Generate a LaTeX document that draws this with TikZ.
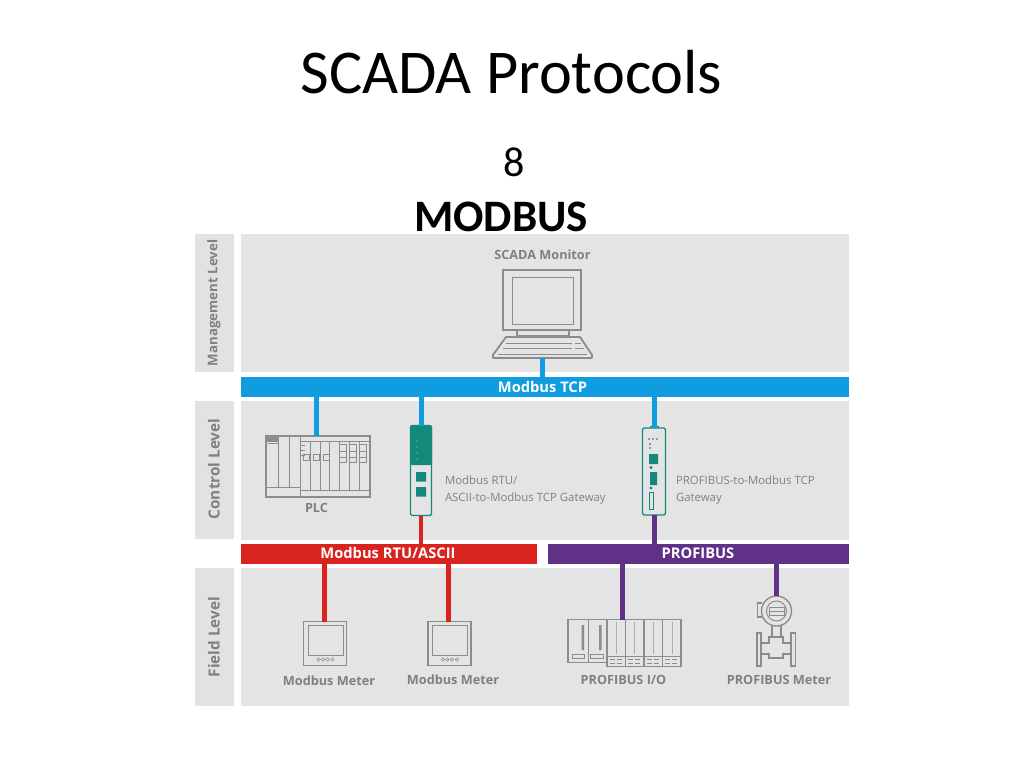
\documentclass[tikz,border=0pt]{standalone}
\usepackage{fontspec}
\setmainfont{Carlito}
\newfontfamily\diag{Open Sans}
\definecolor{panelc}{HTML}{E4E4E4}
\definecolor{sidec}{HTML}{E2E2E2}
\definecolor{busblue}{HTML}{0F9DE0}
\definecolor{busred}{HTML}{D8231F}
\definecolor{buspurple}{HTML}{5F3187}
\definecolor{tealc}{HTML}{12897A}
\definecolor{txtc}{HTML}{808080}
\definecolor{iconc}{HTML}{8C8C8C}
\tikzset{
  every node/.style={inner sep=0pt,outer sep=0pt},
  rectbox/.style n args={3}{rectangle,anchor=north west,fill=#3,minimum width=#1 pt,minimum height=#2 pt},
  sidetxt/.style={rotate=90,text=txtc,font=\diag\bfseries\fontsize{13.3}{16}\selectfont},
  sidebig/.style={rotate=90,text=txtc,font=\diag\bfseries\fontsize{15.3}{18}\selectfont},
  bustxt/.style={text=white,font=\diag\bfseries\fontsize{14.7}{17}\selectfont},
  devtxt/.style={text=txtc,font=\diag\bfseries\fontsize{12.7}{15}\selectfont},
  captxt/.style={text=txtc,anchor=west,align=left,font=\diag\fontsize{11.4}{17}\selectfont},
  icon/.style={draw=iconc,line width=1.8pt,rectangle,anchor=north west},
  fine/.style={draw=iconc,line width=1pt},
  wire/.style={line width=5pt},
  thinwire/.style={line width=3.5pt},
  gwbox/.style={draw=tealc,line width=1.3pt,rectangle,anchor=north west,rounded corners=1.5pt}
}
\begin{document}
\begin{tikzpicture}[x=1pt,y=-1pt]
\useasboundingbox (0,0) rectangle (1024,768);
% headings
\node (title) at (511.5,72) {\fontsize{62.3}{66}\selectfont SCADA Protocols};
\node (num) at (514,162) {\fontsize{42}{46}\selectfont 8};
\node (mod) at (501,216.5) {\fontsize{45}{50}\selectfont\bfseries MODBUS};
% panels
\node[rectbox={39}{138}{sidec}] (sm) at (195,234) {};
\node[rectbox={39}{138}{sidec}] (sc) at (195,401) {};
\node[rectbox={39}{138}{sidec}] (sf) at (195,568) {};
\node[rectbox={608}{138}{panelc}] (pm) at (241,234) {};
\node[rectbox={608}{139}{panelc}] (pc) at (241,401) {};
\node[rectbox={608}{138}{panelc}] (pf) at (241,568) {};
\node[sidetxt] at (214,303) {Management Level};
\node[sidebig] at (214,469) {Control Level};
\node[sidebig] at (214,637) {Field Level};
% buses
\node[rectbox={608}{20}{busblue}] (tcp) at (241,377) {};
\node[rectbox={296}{20}{busred}] (rtu) at (241,543.5) {};
\node[rectbox={301}{20}{buspurple}] (pfb) at (548,543.5) {};
\node[bustxt] at (542.5,387) {Modbus TCP};
\node[bustxt] at (388,553) {Modbus RTU/ASCII};
\node[bustxt] at (698,553) {PROFIBUS};
% monitor
\node[icon,minimum width=78pt,minimum height=60pt] (mon) at (503,270) {};
\node[fine,rectangle,anchor=north west,minimum width=61pt,minimum height=47pt] at (512,277) {};
\draw[fine,line width=1.3pt] (517,330) -- (517,336) (569,330) -- (569,336) (517,336) -- (569,336);
\draw[draw=iconc,line width=1.8pt,line join=round] (506,337) -- (580,337) -- (592,355) -- (592,358) -- (493,358) -- (493,355) -- cycle;
\draw[fine] (498,354) -- (587,354) (506,343) -- (572,343) (575,343) -- (581,343) (503,348) -- (572,348) (575,348) -- (584,348);
\coordinate (monb) at (542,358);
\node[devtxt] at (542.5,255) {SCADA Monitor};
% PLC
\node[icon,minimum width=104pt,minimum height=61pt] (plc) at (266,436) {};
\fill[iconc] (267,437) rectangle (278,442);
\draw[fine] (268,443) -- (278,443) (278,437) -- (278,487) (289,437) -- (289,487) (300,437) -- (300,487)
  (267,487) -- (300,487) (300,487) -- (300,497) (300,441) -- (370,441) (300,490) -- (370,490);
\foreach \px in {310,320,329,339,349,359}{\draw[fine] (\px,441) -- (\px,490);}
\foreach \py in {445,450,455}{\draw[fine] (301,\py) -- (305,\py);}
\foreach \px in {303,313,323}{\draw[fine] (\px,454) rectangle ++(6,6);}
\foreach \px in {339,349,359}{\foreach \py in {444,451,457,462}{\draw[fine] (\px,\py) -- ++(7,0);}\draw[fine] (\px,444) rectangle ++(7,18);}
\node[devtxt] at (316.5,507.5) {PLC};
% gateway 1
\node[gwbox,minimum width=21pt,minimum height=90pt,fill=panelc] (gwa) at (410.5,425.5) {};
\fill[tealc,rounded corners=2pt] (410,425) rectangle (432,465);
\foreach \py in {441,447,453,459}{\fill[white!60!tealc] (417,\py) circle (0.6);}
\fill[tealc] (416,472) rectangle (426,481.5) (416,487) rectangle (426,496.5);
\node[captxt] at (445,490) {Modbus RTU/\\ASCII-to-Modbus TCP Gateway};
% gateway 2
\node[gwbox,minimum width=23pt,minimum height=87pt] (gwb) at (642.5,428) {};
\draw[tealc,line width=1pt] (650,428) -- (650,426) -- (658,426) -- (658,428);
\fill[tealc] (649,454) rectangle (658,464) (650,472) rectangle (657,485);
\fill[tealc!80!black] (649,439) circle (0.8) (653,439) circle (0.8) (657,439) circle (0.8) (650,444) circle (0.8) (650,448) circle (0.8);
\fill[tealc] (651,467.5) circle (1.7) (651,488) circle (1.7);
\draw[tealc,line width=0.9pt] (649,492) rectangle (653,509);
\node[captxt] at (676,490) {PROFIBUS-to-Modbus TCP\\Gateway};
% meters
\node[icon,minimum width=43pt,minimum height=44pt] (ma) at (303.5,621.5) {};
\draw[fine] (308,625) rectangle (343,655);
\foreach \px in {318.5,323,327.5,332.5}{\draw[iconc,line width=0.6pt] (\px,659.5) circle (1.8);}
\node[icon,minimum width=43pt,minimum height=44pt] (mb) at (428,621.5) {};
\draw[fine] (432.5,625) rectangle (467.5,655);
\foreach \px in {443,447.5,452,457}{\draw[iconc,line width=0.6pt] (\px,659.5) circle (1.8);}
\node[devtxt] at (329,681) {Modbus Meter};
\node[devtxt] at (453,680) {Modbus Meter};
% PROFIBUS I/O
\node[icon,minimum width=74pt,minimum height=47pt] (io) at (607,619.5) {};
\draw[draw=iconc,line width=1.8pt] (607,619.5) -- (568,619.5) -- (568,662.5) -- (607,662.5);
\draw[draw=iconc,line width=1.2pt] (588.5,619.5) -- (588.5,662.5);
\fill[iconc] (581.5,625) rectangle (584,650) (599,625) rectangle (601.5,650);
\draw[fine] (572,654) rectangle (584,658.5) (590,654) rectangle (603,658.5);
\draw[fine] (607,656) -- (681,656);
\foreach \px in {625.5,644,662.5}{\draw[draw=iconc,line width=1.2pt] (\px,619.5) -- (\px,666);}
\foreach \px in {616,634.5,653,672}{\draw[iconc!70,line width=0.8pt] (\px,622) -- (\px,654);}
\foreach \px in {609.5,628,646.5,665}{\draw[iconc,line width=1pt] (\px,659) -- ++(5,0) (\px+7,659) -- ++(5,0) (\px,663) -- ++(5,0) (\px+7,663) -- ++(5,0);}
\node[devtxt] at (623.5,680) {PROFIBUS I/O};
% PROFIBUS meter
\node[circle,draw=iconc,line width=1.4pt,minimum size=30pt] (fm) at (776.5,611) {};
\draw[fine] (776.5,611) circle (10);
\draw[fine] (769,607) rectangle (784,615) (769,611) -- (784,611);
\draw[draw=iconc,line width=1.2pt] (762,603) -- (757.5,603) -- (757.5,617) -- (762,617);
\draw[draw=iconc,line width=1.2pt] (772,626) -- (772,637) (781,626) -- (781,637);
\draw[draw=iconc,line width=1.2pt] (757,633) rectangle (761,666) (791,633) rectangle (795.5,666);
\draw[draw=iconc,line width=1.2pt] (761,643) -- (769,643) -- (769,637) -- (783,637) -- (783,643) -- (791,643) (761,654) -- (769,654) -- (769,658) -- (783,658) -- (783,654) -- (791,654);
\node[devtxt] at (779,680) {PROFIBUS Meter};
% connectors
\draw[busblue,wire] (monb) -- (monb |- tcp.north);
\draw[busblue,wire] (316,0 |- plc.north) -- (316,0 |- tcp.south);
\draw[busblue,wire] (421,0 |- gwa.north) -- (421,0 |- tcp.south);
\draw[busblue,wire] (654,0 |- gwb.north) -- (654,0 |- tcp.south);
\draw[busred,thinwire] (421,0 |- gwa.south) -- (421,0 |- rtu.north);
\draw[buspurple,wire] (654,0 |- gwb.south) -- (654,0 |- pfb.north);
\draw[busred,wire] (324.5,0 |- ma.north) -- (324.5,0 |- rtu.south);
\draw[busred,wire] (448.5,0 |- mb.north) -- (448.5,0 |- rtu.south);
\draw[buspurple,wire] (622,0 |- io.north) -- (622,0 |- pfb.south);
\draw[buspurple,wire] (776,0 |- fm.north) -- (776,0 |- pfb.south);
\end{tikzpicture}
\end{document}
